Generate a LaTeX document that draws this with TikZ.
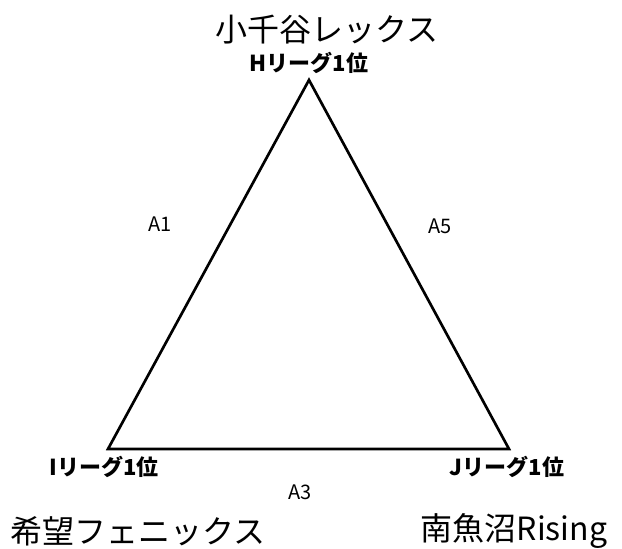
\documentclass[tikz,border=0pt]{standalone}
\usepackage{fontspec}
\setmainfont{Noto Sans CJK JP}
\begin{document}
\begin{tikzpicture}[
            x=0.75pt,
            y=-0.75pt,
            team/.style={
                font=\fontsize{24}{27}\selectfont,
                inner sep=0pt
            },
            rank/.style={
                font=\fontsize{16.5}{19}\selectfont\bfseries,
                inner sep=0pt
            },
            match/.style={
                font=\fontsize{15}{17}\selectfont,
                inner sep=0pt
            },
            edge/.style={
                line width=2pt,
                line join=miter
            }
        ]
            \useasboundingbox (0,0) rectangle (622,549);
            % Define nodes
            \coordinate (hTop) at (309,80);
            \coordinate (iLeft) at (108,449);
            \coordinate (jRight) at (509,449);
            \node[team] (ojiya) at (327,30) {小千谷レックス};
            \node[rank] (hRank) at (309,63) {Hリーグ1位};
            \node[rank] (iRank) at (104,467) {Iリーグ1位};
            \node[rank] (jRank) at (507,467) {Jリーグ1位};
            \node[team] (kibou) at (138,531) {希望フェニックス};
            \node[team] (minami) at (514,531) {南魚沼Rising};
            \node[match] (a1) at (160,224) {A1};
            \node[match] (a5) at (440,226) {A5};
            \node[match] (a3) at (300,492) {A3};
            
            % Draw edges
            \draw[edge] (hTop) -- (iLeft) -- (jRight) -- cycle;
        \end{tikzpicture}
\end{document}
